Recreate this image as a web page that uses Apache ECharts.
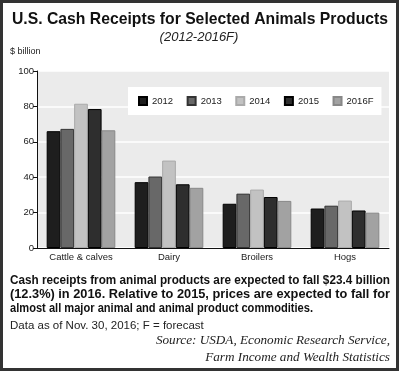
<!DOCTYPE html>
<html><head><meta charset="utf-8">
<script src="https://cdn.jsdelivr.net/npm/echarts@6/dist/echarts.min.js"></script>
<style>html,body{margin:0;padding:0;background:#fff}#c{width:400px;height:372px}</style>
</head><body><div id="c"></div>
<script>
const categories = ['Cattle & calves', 'Dairy', 'Broilers', 'Hogs'];
const years = ['2012', '2013', '2014', '2015', '2016F'];
const v2012 = [66.0, 37.2, 25.0, 22.3];
const v2013 = [67.3, 40.4, 30.7, 23.9];
const v2014 = [81.5, 49.4, 33.0, 26.8];
const v2015 = [78.5, 36.0, 28.8, 21.2];
const v2016F = [66.5, 34.0, 26.6, 20.0];
const yTicks = [0, 20, 40, 60, 80, 100];

const titleText = 'U.S. Cash Receipts for Selected Animals Products';
const subtitleText = '(2012-2016F)';
const unitText = '$ billion';
const noteLines = [
  'Cash receipts from animal products are expected to fall $23.4 billion',
  '(12.3%) in 2016. Relative to 2015, prices are expected to fall for',
  'almost all major animal and animal product commodities.'
];
const dataNote = 'Data as of Nov. 30, 2016; F = forecast';
const sourceLines = ['Source: USDA, Economic Research Service,', 'Farm Income and Wealth Statistics'];

const seriesValues = [v2012, v2013, v2014, v2015, v2016F];
const colors = ['#1e1e1e', '#686868', '#c2c2c2', '#2e2e2e', '#a2a2a2'];
const borders = ['#000', '#333', '#aaa', '#000', '#888'];

const cv = document.createElement('canvas').getContext('2d');
function w(font, t) { cv.font = font; return cv.measureText(t).width; }
const titleFont = 'bold 17px "Liberation Sans", Arial, sans-serif';
const titleScale = 376 / w(titleFont, titleText);
const noteFont = 'bold 12px "Liberation Sans", Arial, sans-serif';
const noteTargets = [380, 380, 303];
const srcFont = 'italic 13.2px "Liberation Serif", "Times New Roman", serif';

const graphic = [
  { type: 'rect', shape: { x: 1.5, y: 1.5, width: 396, height: 368 }, style: { fill: 'none', stroke: '#333', lineWidth: 3 }, silent: true },
  { type: 'text', x: 200, y: 19.5, scaleX: titleScale, style: { text: titleText, font: titleFont, fill: '#111', textAlign: 'center', textVerticalAlign: 'middle' } },
  { type: 'text', x: 199, y: 37, style: { text: subtitleText, font: 'italic 13px "Liberation Sans", Arial, sans-serif', fill: '#222', textAlign: 'center', textVerticalAlign: 'middle' } },
  { type: 'text', x: 10, y: 52, style: { text: unitText, font: '9px "Liberation Sans", Arial, sans-serif', fill: '#222', textAlign: 'left', textVerticalAlign: 'middle' } },
  { type: 'text', x: 10, y: 326, style: { text: dataNote, font: '11.5px "Liberation Sans", Arial, sans-serif', fill: '#222', textAlign: 'left', textVerticalAlign: 'middle' } }
];
const noteY = [280.5, 294.5, 308.5];
noteLines.forEach(function (t, i) {
  graphic.push({ type: 'text', x: 10, y: noteY[i], scaleX: noteTargets[i] / w(noteFont, t),
    style: { text: t, font: noteFont, fill: '#111', textAlign: 'left', textVerticalAlign: 'middle' } });
});
const srcY = [341, 358];
sourceLines.forEach(function (t, i) {
  graphic.push({ type: 'text', x: 390, y: srcY[i],
    style: { text: t, font: srcFont, fill: '#222', textAlign: 'right', textVerticalAlign: 'middle' } });
});

const chart = echarts.init(document.getElementById('c'), null, { renderer: 'canvas' });
chart.setOption({
  animation: false,
  textStyle: { fontFamily: '"Liberation Sans", Arial, sans-serif' },
  grid: { left: 37, right: 11, top: 71, bottom: 124, show: true, backgroundColor: '#ebebeb', borderWidth: 0 },
  legend: {
    data: years, left: 128, top: 87, padding: [9, 8, 9, 10], backgroundColor: '#fff',
    itemWidth: 8, itemHeight: 8, itemGap: 13.5, icon: 'rect',
    textStyle: { fontSize: 9.5, color: '#222' }
  },
  xAxis: {
    type: 'category', data: categories,
    axisLine: { lineStyle: { color: '#111', width: 1 } },
    axisTick: { show: false },
    axisLabel: { fontSize: 9.5, color: '#222', margin: 4 }
  },
  yAxis: {
    type: 'value', min: yTicks[0], max: yTicks[yTicks.length - 1], interval: 20,
    axisLine: { show: true, lineStyle: { color: '#111', width: 1 } },
    axisTick: { show: true, length: 4, lineStyle: { color: '#111' } },
    axisLabel: { fontSize: 9.5, color: '#222', margin: 3 },
    splitLine: { lineStyle: { color: '#fff', width: 1.5 } }
  },
  series: years.map(function (y, i) {
    return { name: y, type: 'bar', data: seriesValues[i], barGap: '0%', barCategoryGap: '22%',
      itemStyle: { color: colors[i], borderColor: borders[i], borderWidth: 1 } };
  }),
  graphic: graphic
});
</script></body></html>
